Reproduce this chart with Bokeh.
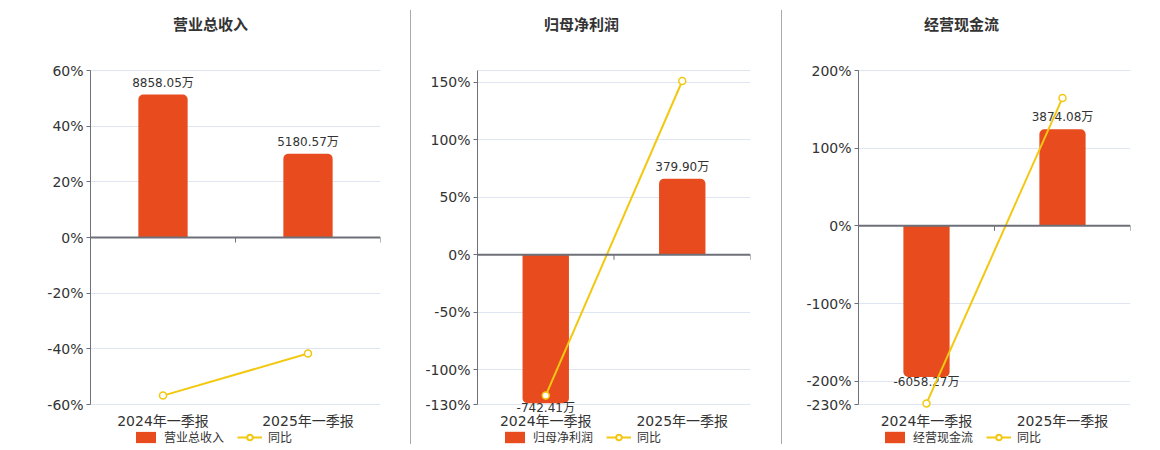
from bokeh.plotting import figure
from bokeh.models import (FactorRange, Range1d, FixedTicker, Legend, LegendItem,
                          Span, Div, PrintfTickFormatter)
from bokeh.layouts import row
from bokeh.core.properties import value
from bokeh.embed import file_html
from bokeh.resources import INLINE

# ---------------- data ----------------
categories = ["2024年一季报", "2025年一季报"]

revenue_values = [8858.05, 5180.57]          # 万
revenue_labels = ["8858.05万", "5180.57万"]
revenue_yoy = [-56.8, -41.7]                 # %

profit_values = [-742.41, 379.90]
profit_labels = ["-742.41万", "379.90万"]
profit_yoy = [-122.1, 150.9]

cash_values = [-6058.27, 3874.08]
cash_labels = ["-6058.27万", "3874.08万"]
cash_yoy = [-228.6, 164.7]

titles = ["营业总收入", "归母净利润", "经营现金流"]
yoy_name = "同比"

pct_ranges = [(-60, 60), (-130, 160), (-230, 200)]
pct_ticks = [[-60, -40, -20, 0, 20, 40, 60],
             [-130, -100, -50, 0, 50, 100, 150],
             [-230, -200, -100, 0, 100, 200]]

# ---------------- style / layout ----------------
BAR = "#e84c1e"
LINE = "#f2c811"
AXIS = "#6e7079"
GRID = "#e0e6f1"
TXT = "#333333"
FONT = "DejaVu Sans, Noto Sans CJK SC"
CJK = "Noto Sans CJK SC"

H = 448            # figure / frame height
AX_TOP = 70        # screen y of top of value axis
AX_BOT = 404       # screen y of bottom of value axis
TITLE_Y = 22.5
CAT_Y = 420.5
panels = [
    dict(values=revenue_values, labels=revenue_labels, yoy=revenue_yoy, scale=0.0058,
         left=90, fw=290, right=30, title_cx=120, legend_x=43),
    dict(values=profit_values, labels=profit_labels, yoy=profit_yoy, scale=0.1735,
         left=66, fw=273, right=31, title_cx=104, legend_x=25),
    dict(values=cash_values, labels=cash_labels, yoy=cash_yoy, scale=0.0321,
         left=76, fw=272, right=22, title_cx=103, legend_x=24),
]


def make_panel(i, cfg):
    lo, hi = pct_ranges[i]
    ppu = (AX_BOT - AX_TOP) / (hi - lo)          # px per percent
    y0 = lo - (H - AX_BOT) / ppu
    y1 = hi + AX_TOP / ppu
    k = cfg["scale"]
    n = len(categories)
    p = figure(x_range=FactorRange(*categories, range_padding=0),
               y_range=Range1d(y0, y1),
               frame_width=cfg["fw"], frame_height=H,
               min_border_left=cfg["left"], min_border_right=cfg["right"],
               min_border_top=0, min_border_bottom=0,
               output_backend="svg", toolbar_location=None, tools="")
    p.extra_y_ranges = {"bar": Range1d(y0 / k, y1 / k)}
    p.outline_line_color = None
    p.background_fill_color = "white"
    p.border_fill_color = "white"

    # grid
    p.xgrid.visible = False
    p.ygrid.ticker = FixedTicker(ticks=pct_ticks[i] + [hi])
    p.ygrid.grid_line_color = GRID
    p.ygrid.grid_line_width = 1

    # y axis
    ya = p.yaxis[0]
    ya.bounds = (lo, hi)
    ya.ticker = FixedTicker(ticks=pct_ticks[i])
    ya.formatter = PrintfTickFormatter(format="%d%%")
    ya.axis_line_color = AXIS
    ya.major_tick_line_color = AXIS
    ya.major_tick_out = 4
    ya.major_tick_in = 0
    ya.minor_tick_line_color = None
    ya.minor_tick_out = 0
    ya.major_label_standoff = 3
    ya.major_label_text_font_size = "14px"
    ya.major_label_text_color = TXT
    ya.major_label_text_font = FONT

    p.xaxis.visible = False

    # category labels under the plot
    p.text(x=categories, y=[lo] * n, text=categories, y_offset=CAT_Y - AX_BOT,
           text_align="center", text_baseline="middle",
           text_font_size="14px", text_color=TXT, text_font=value(FONT))

    vals = cfg["values"]
    labs = cfg["labels"]
    pos_x = [c for c, v in zip(categories, vals) if v >= 0]
    pos_v = [v for v in vals if v >= 0]
    pos_l = [l for l, v in zip(labs, vals) if v >= 0]
    neg_x = [c for c, v in zip(categories, vals) if v < 0]
    neg_v = [v for v in vals if v < 0]
    neg_l = [l for l, v in zip(labs, vals) if v < 0]

    bar_renderers = []
    if pos_x:
        r = p.vbar(x=pos_x, top=pos_v, bottom=0, width=0.34, y_range_name="bar",
                   fill_color=BAR, line_color=None, border_radius=(5, 5, 0, 0))
        bar_renderers.append(r)
        p.text(x=pos_x, y=pos_v, text=pos_l, y_range_name="bar",
               text_align="center", text_baseline="bottom", y_offset=-5,
               text_font_size="12px", text_color=TXT, text_font=value(FONT))
    if neg_x:
        r = p.vbar(x=neg_x, top=0, bottom=neg_v, width=0.34, y_range_name="bar",
                   fill_color=BAR, line_color=None, border_radius=(0, 0, 5, 5))
        bar_renderers.append(r)
        p.text(x=neg_x, y=neg_v, text=neg_l, y_range_name="bar",
               text_align="center", text_baseline="top", y_offset=-2,
               text_font_size="12px", text_color=TXT, text_font=value(FONT))

    # zero axis line with category boundary ticks
    p.add_layout(Span(location=0, dimension="width", line_color=AXIS, line_width=2))
    tick_len = 5 / ppu
    bnd = list(range(1, n + 1))
    p.segment(x0=bnd, y0=[0] * n, x1=bnd, y1=[-tick_len] * n,
              line_color=AXIS, line_width=1)

    # yoy line
    ln = p.line(x=categories, y=cfg["yoy"], line_color=LINE, line_width=2)
    sc = p.scatter(x=categories, y=cfg["yoy"], marker="circle", size=7,
                   fill_color="white", line_color=LINE, line_width=1.5)
    big = p.scatter(x=categories, y=cfg["yoy"], marker="circle", size=13,
                    fill_color="white", line_color=LINE, line_width=2, visible=False)

    # title
    tx = cfg["title_cx"] / cfg["fw"] * n
    p.text(x=[tx], y=[hi], text=[titles[i]], y_offset=-(AX_TOP - TITLE_Y),
           text_align="center", text_baseline="middle",
           text_font_size="15px", text_font_style="bold",
           text_color=TXT, text_font=value(CJK))

    legend = Legend(items=[LegendItem(label=titles[i], renderers=bar_renderers),
                           LegendItem(label=yoy_name, renderers=[ln, big])],
                    orientation="horizontal", location=(cfg["legend_x"], 3),
                    margin=0, padding=2, spacing=13, label_standoff=6,
                    glyph_width=25, glyph_height=14, label_height=14,
                    label_text_font_size="12px", label_text_color=TXT,
                    label_text_font=CJK, border_line_color=None,
                    background_fill_alpha=0, inactive_fill_alpha=0)
    p.add_layout(legend, "center")
    return p


figs = [make_panel(i, cfg) for i, cfg in enumerate(panels)]


def sep():
    return Div(width=1, height=434, margin=(10, 0, 0, 0),
               styles={"background-color": "#aaaaaa"})


layout = row(figs[0], sep(), figs[1], sep(), figs[2])
open("out.html", "w").write(file_html(layout, INLINE))
